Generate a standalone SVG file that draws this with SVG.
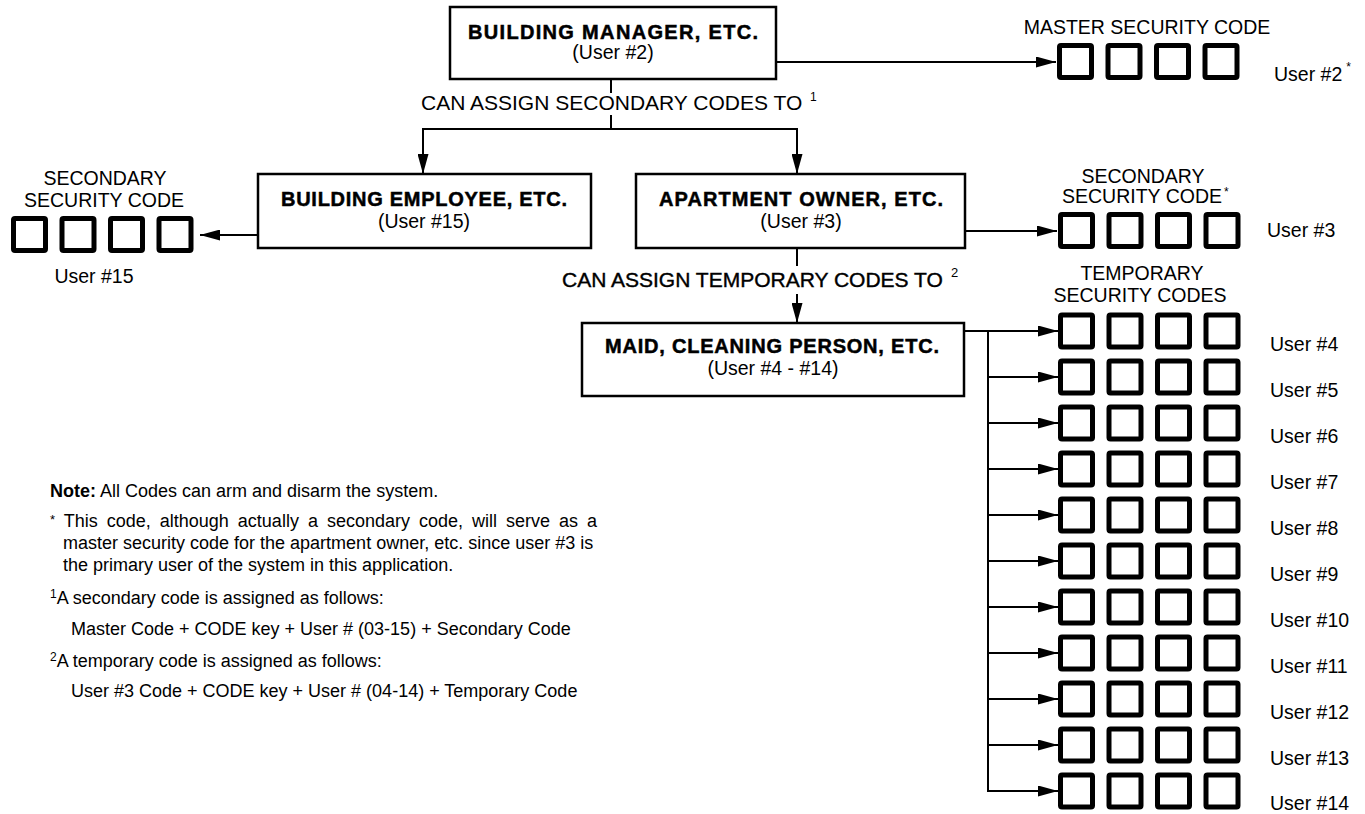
<svg xmlns="http://www.w3.org/2000/svg" xmlns:xlink="http://www.w3.org/1999/xlink" width="1365" height="814" viewBox="0 0 1365 814">
<style>
  text { font-family: "Liberation Sans", Arial, Helvetica, sans-serif; fill: #000; }
  .title { font-size: 20px; font-weight: bold; text-anchor: middle; stroke: #000; stroke-width: 0.5; }
  .sub { font-size: 19.5px; text-anchor: middle; }
  .lbl { font-size: 19.5px; }
  .big { font-size: 21px; }
  .mid { text-anchor: middle; }
  .usr { font-size: 19.5px; }
  .note { font-size: 18px; }
  .sup { font-size: 12px; }
  .box { fill: #fff; stroke: #000; stroke-width: 2.5; }
  .code { fill: #fff; stroke: #000; stroke-width: 5; }
  .ln { fill: none; stroke: #000; stroke-width: 2; }
  .arr { fill: none; stroke: #000; stroke-width: 2; marker-end: url(#ah); }
</style>
<defs>
  <marker id="ah" markerUnits="userSpaceOnUse" markerWidth="20" markerHeight="11" refX="20" refY="5.5" orient="auto">
    <path d="M0,0 L20,5.5 L0,11 Z" fill="#000"/>
  </marker>
  <g id="quad">
    <rect class="code" x="2.5" y="2.5" width="32" height="32" rx="1.5"/>
    <rect class="code" x="51" y="2.5" width="32" height="32" rx="1.5"/>
    <rect class="code" x="99.5" y="2.5" width="32" height="32" rx="1.5"/>
    <rect class="code" x="148" y="2.5" width="32" height="32" rx="1.5"/>
  </g>
</defs>
<rect width="1365" height="814" fill="#fff"/>

<g id="connectors">
  <line class="arr" x1="776" y1="62" x2="1056" y2="62"/>
  <line class="ln" x1="611" y1="79" x2="611" y2="93"/>
  <line class="ln" x1="611" y1="115" x2="611" y2="129"/>
  <line class="ln" x1="423" y1="129" x2="797" y2="129"/>
  <line class="arr" x1="423" y1="128" x2="423" y2="174"/>
  <line class="arr" x1="797" y1="128" x2="797" y2="174"/>
  <line class="arr" x1="258" y1="235" x2="200" y2="235"/>
  <line class="arr" x1="965" y1="231" x2="1057" y2="231"/>
  <line class="ln" x1="797" y1="248" x2="797" y2="266"/>
  <line class="arr" x1="797" y1="294" x2="797" y2="323"/>
  <line class="ln" x1="988" y1="331" x2="988" y2="792"/>
  <line class="arr" x1="964" y1="331" x2="1058" y2="331"/>
  <line class="arr" x1="987" y1="377" x2="1058" y2="377"/>
  <line class="arr" x1="987" y1="423" x2="1058" y2="423"/>
  <line class="arr" x1="987" y1="469" x2="1058" y2="469"/>
  <line class="arr" x1="987" y1="515" x2="1058" y2="515"/>
  <line class="arr" x1="987" y1="561" x2="1058" y2="561"/>
  <line class="arr" x1="987" y1="607" x2="1058" y2="607"/>
  <line class="arr" x1="987" y1="653" x2="1058" y2="653"/>
  <line class="arr" x1="987" y1="699" x2="1058" y2="699"/>
  <line class="arr" x1="987" y1="745" x2="1058" y2="745"/>
  <line class="arr" x1="987" y1="791" x2="1058" y2="791"/>
  <text class="big" x="421" y="110">CAN ASSIGN SECONDARY CODES TO</text>
  <text class="sup" x="810" y="101">1</text>
  <text class="big" x="562" y="287" stroke="#000" stroke-width="0.4">CAN ASSIGN TEMPORARY CODES TO</text>
  <text class="sup" x="951" y="277" style="font-size:13px">2</text>
</g>

<g id="building-manager">
  <rect class="box" x="450" y="7" width="326" height="72"/>
  <text class="title" x="613" y="39" textLength="290" lengthAdjust="spacing">BUILDING MANAGER, ETC.</text>
  <text class="sub" x="613" y="59">(User #2)</text>
</g>

<g id="building-employee">
  <rect class="box" x="258" y="174" width="333" height="74"/>
  <text class="title" x="424" y="206" textLength="286" lengthAdjust="spacing">BUILDING EMPLOYEE, ETC.</text>
  <text class="sub" x="424" y="228">(User #15)</text>
</g>

<g id="apartment-owner">
  <rect class="box" x="636" y="174" width="329" height="74"/>
  <text class="title" x="801" y="206" textLength="284" lengthAdjust="spacing">APARTMENT OWNER, ETC.</text>
  <text class="sub" x="801" y="228">(User #3)</text>
</g>

<g id="maid">
  <rect class="box" x="582" y="323" width="382" height="73"/>
  <text class="title" x="772" y="353" textLength="334" lengthAdjust="spacing">MAID, CLEANING PERSON, ETC.</text>
  <text class="sub" x="773" y="375">(User #4 - #14)</text>
</g>

<g id="master-code">
  <text class="lbl mid" x="1147" y="34">MASTER SECURITY CODE</text>
  <use xlink:href="#quad" href="#quad" x="1057" y="43"/>
  <text class="usr" x="1274" y="81">User #2<tspan class="sup" dx="4" dy="-10">*</tspan></text>
</g>

<g id="secondary-code-15">
  <text class="lbl mid" x="105" y="185">SECONDARY</text>
  <text class="lbl mid" x="104" y="207">SECURITY CODE</text>
  <use xlink:href="#quad" href="#quad" x="11" y="216"/>
  <text class="usr mid" x="94" y="283">User #15</text>
</g>

<g id="secondary-code-3">
  <text class="lbl mid" x="1143" y="183">SECONDARY</text>
  <text class="lbl" x="1062" y="203">SECURITY CODE</text>
  <text class="sup" x="1224" y="196">*</text>
  <use xlink:href="#quad" href="#quad" x="1058" y="212"/>
  <text class="usr" x="1267" y="237">User #3</text>
</g>

<g id="temporary-codes">
  <text class="lbl mid" x="1142" y="280">TEMPORARY</text>
  <text class="lbl mid" x="1140" y="302">SECURITY CODES</text>
  <use xlink:href="#quad" href="#quad" x="1058" y="312.5"/>
  <use xlink:href="#quad" href="#quad" x="1058" y="358.5"/>
  <use xlink:href="#quad" href="#quad" x="1058" y="404.5"/>
  <use xlink:href="#quad" href="#quad" x="1058" y="450.5"/>
  <use xlink:href="#quad" href="#quad" x="1058" y="496.5"/>
  <use xlink:href="#quad" href="#quad" x="1058" y="542.5"/>
  <use xlink:href="#quad" href="#quad" x="1058" y="588.5"/>
  <use xlink:href="#quad" href="#quad" x="1058" y="634.5"/>
  <use xlink:href="#quad" href="#quad" x="1058" y="680.5"/>
  <use xlink:href="#quad" href="#quad" x="1058" y="726.5"/>
  <use xlink:href="#quad" href="#quad" x="1058" y="772.5"/>
  <text class="usr" x="1270" y="351">User #4</text>
  <text class="usr" x="1270" y="397">User #5</text>
  <text class="usr" x="1270" y="443">User #6</text>
  <text class="usr" x="1270" y="489">User #7</text>
  <text class="usr" x="1270" y="535">User #8</text>
  <text class="usr" x="1270" y="581">User #9</text>
  <text class="usr" x="1270" y="627">User #10</text>
  <text class="usr" x="1270" y="673">User #11</text>
  <text class="usr" x="1270" y="719">User #12</text>
  <text class="usr" x="1270" y="765">User #13</text>
  <text class="usr" x="1270" y="810">User #14</text>
</g>

<g id="notes">
  <text class="note" x="50" y="497"><tspan font-weight="bold">Note:</tspan> All Codes can arm and disarm the system.</text>
  <text class="note" x="50" y="527" word-spacing="4"><tspan font-size="13" dy="-3">*</tspan><tspan dy="3"> This code, although actually a secondary code, will serve as a</tspan></text>
  <text class="note" x="63" y="549">master security code for the apartment owner, etc. since user #3 is</text>
  <text class="note" x="63" y="571">the primary user of the system in this application.</text>
  <text class="note" x="50" y="604"><tspan font-size="12" dy="-6">1</tspan><tspan dy="6">A secondary code is assigned as follows:</tspan></text>
  <text class="note" x="71" y="635">Master Code + CODE key + User # (03-15) + Secondary Code</text>
  <text class="note" x="50" y="667"><tspan font-size="12" dy="-6">2</tspan><tspan dy="6">A temporary code is assigned as follows:</tspan></text>
  <text class="note" x="71" y="697">User #3 Code + CODE key + User # (04-14) + Temporary Code</text>
</g>
</svg>
